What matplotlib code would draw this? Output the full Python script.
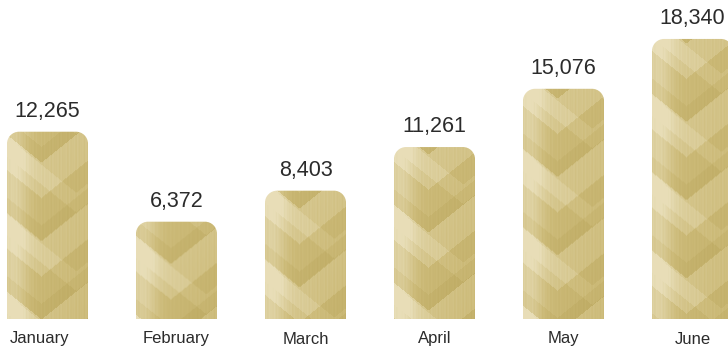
import numpy as np
import matplotlib.pyplot as plt
from matplotlib.path import Path
from matplotlib.patches import PathPatch

months = ["January", "February", "March", "April", "May", "June"]
values = [12265, 6372, 8403, 11261, 15076, 18340]

plt.rcParams["font.family"] = ["Liberation Sans", "DejaVu Sans"]

W, H, DPI = 728, 349, 100
fig = plt.figure(figsize=(W / DPI, H / DPI), dpi=DPI)
ax = fig.add_axes([0, 0, 1, 1])

# pixel geometry of the reference
step_px = 129.0
first_center_px = 47.5
bar_w_px = 81.0
base_px = 319.0
px_per_unit = 0.01527

ax.axis("off")

bar_w = bar_w_px / step_px
rx = 12 / step_px
ry = 12 / px_per_unit

light = np.array([0.91, 0.87, 0.72])
mid = np.array([0.80, 0.73, 0.47])
dark = np.array([0.70, 0.62, 0.32])


def gold_texture(wpx, hpx, shift):
    xx, yy = np.meshgrid(np.arange(wpx), np.arange(hpx))
    u = xx / (wpx - 1)
    yb = hpx - yy  # distance from bottom
    # horizontal sheen, light near the left edge
    sheen = np.exp(-((u - 0.08) / 0.18) ** 2)
    # large upward chevrons, two overlapping families
    s1 = (yb - 0.8 * np.abs(xx - 0.42 * wpx) + shift) % 78 / 78.0
    s2 = (yb - 0.8 * np.abs(xx - 0.85 * wpx) + shift + 30) % 78 / 78.0
    chev = 0.18 * (s1 > 0.55) + 0.12 * (s2 > 0.75) - 0.10 * (s1 < 0.2)
    # fine vertical streaks
    streak = np.sin(xx * 1.9) * np.sin(xx * 0.37 + 1.0)
    # slightly darker towards the bottom right
    shade = 0.18 * u * (0.4 + 0.6 * yy / max(hpx, 1))
    t = 0.52 + 0.32 * sheen + chev + 0.04 * streak - shade
    t = np.clip(t, 0, 1)[..., None]
    rgb = np.where(t > 0.5,
                   mid + (light - mid) * ((t - 0.5) * 2),
                   dark + (mid - dark) * (t * 2))
    return rgb


def rounded_top(x0, x1, top):
    k = 0.5523
    verts = [(x0, 0), (x0, top - ry),
             (x0, top - ry + k * ry), (x0 + rx - k * rx, top), (x0 + rx, top),
             (x1 - rx, top),
             (x1 - rx + k * rx, top), (x1, top - ry + k * ry), (x1, top - ry),
             (x1, 0), (x0, 0)]
    codes = [Path.MOVETO, Path.LINETO,
             Path.CURVE4, Path.CURVE4, Path.CURVE4,
             Path.LINETO,
             Path.CURVE4, Path.CURVE4, Path.CURVE4,
             Path.LINETO, Path.CLOSEPOLY]
    return Path(verts, codes)


for i, (m, v) in enumerate(zip(months, values)):
    x0, x1 = i - bar_w / 2, i + bar_w / 2
    hpx = int(round(v * px_per_unit))
    tex = gold_texture(int(bar_w_px), hpx, i * 23)
    im = ax.imshow(tex, extent=[x0, x1, 0, v], aspect="auto",
                   interpolation="bilinear", zorder=2)
    patch = PathPatch(rounded_top(x0, x1, v), facecolor="none",
                      edgecolor="none", transform=ax.transData)
    ax.add_patch(patch)
    im.set_clip_path(patch)
    ax.text(i, v + 10 / px_per_unit, f"{v:,}", ha="center", va="bottom",
            fontsize=15.5, color="#2b2b2b")
    lx = i - 0.06 if i == 0 else i
    ax.text(lx, -20 / px_per_unit, m, ha="center", va="center",
            fontsize=12, color="#2b2b2b")

ax.set_xlim(-first_center_px / step_px, (W - first_center_px) / step_px)
ax.set_ylim(-(H - base_px) / px_per_unit, base_px / px_per_unit)

fig.savefig("out.png", dpi=DPI, facecolor="white")
